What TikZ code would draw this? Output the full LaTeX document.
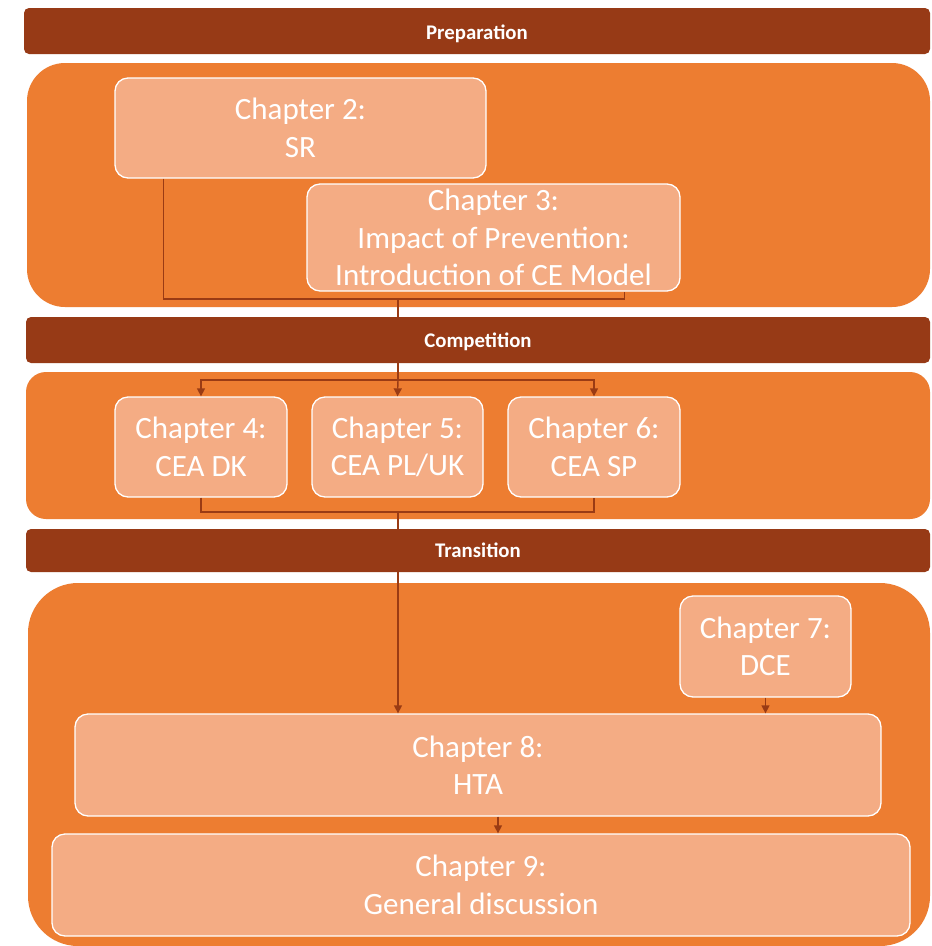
\documentclass[tikz,border=0pt]{standalone}
\usepackage{fontspec}
\setmainfont{Carlito}
\usetikzlibrary{arrows.meta,calc}
\definecolor{barbrown}{HTML}{973A16}
\definecolor{panelorange}{HTML}{ED7D31}
\definecolor{boxfill}{HTML}{F4AC84}
\definecolor{linebrown}{HTML}{9A3B14}
\tikzset{
  panel/.style={fill=panelorange, draw=none},
  phasebar/.style={fill=barbrown, draw=none, rounded corners=5pt, text=white,
    font=\fontsize{20.8}{24}\selectfont\bfseries, inner sep=0pt},
  chbox/.style={fill=boxfill, draw=white, line width=1.3pt, rounded corners=13pt,
    text=white, align=center, inner sep=0pt, font=\fontsize{31}{37.5}\selectfont},
  conn/.style={draw=linebrown, line width=1.4pt},
  arr/.style={conn, -{Triangle[length=8pt,width=8pt]}}
}
\newcommand{\bartext}[2]{\raisebox{-#1}[0pt][0pt]{#2}}
\begin{document}
\begin{tikzpicture}[x=1pt,y=-1pt]
\useasboundingbox (0,0) rectangle (932,946);
\fill[white] (0,0) rectangle (932,946);
% panels
\path[panel, rounded corners=38pt] (27,63) rectangle (930,307);
\path[panel, rounded corners=20pt] (26,372) rectangle (930,519);
\path[panel, rounded corners=50pt] (28,583) rectangle (930,946);
% chapter boxes
\node[chbox, minimum width=371pt, minimum height=100pt] (c2) at (300.5,128) {Chapter 2:\\SR};
\node[chbox, minimum width=373pt, minimum height=107pt] (c3) at (493.5,237.5) {Chapter 3:\\Impact of Prevention:\\Introduction of CE Model};
\node[chbox, minimum width=172pt, minimum height=100pt] (c4) at (201,447) {Chapter 4:\\CEA DK};
\node[chbox, minimum width=171pt, minimum height=100pt] (c5) at (397.5,447) {Chapter 5:\\CEA PL/UK};
\node[chbox, minimum width=172pt, minimum height=100pt] (c6) at (594,447) {Chapter 6:\\CEA SP};
\node[chbox, minimum width=171pt, minimum height=101pt] (c7) at (765.5,646.5) {Chapter 7:\\DCE};
\node[chbox, minimum width=806pt, minimum height=102pt] (c8) at (478,765) {Chapter 8:\\HTA};
\node[chbox, minimum width=858pt, minimum height=102pt] (c9) at (481,885) {Chapter 9:\\General discussion};
% junctions
\coordinate (j1) at (398,299);
\coordinate (j2) at (398,380);
\coordinate (j3) at (398,512);
% connectors
\draw[conn] ([xshift=49pt]c2.south west) |- (j1) -| ([xshift=-56pt]c3.south east);
\draw[conn] (j1) -- (j2);
\draw[arr] (j2) -- (c5.north);
\draw[arr] (j2) -| (c4.north);
\draw[arr] (j2) -| (c6.north);
\draw[conn] (c4.south) |- (j3) -| (c6.south);
\draw[arr] (j3) -- (j3 |- c8.north);
\draw[arr] (c7.south) -- (c7.south |- c8.north);
\draw[arr] ([xshift=20pt]c8.south) -- ([xshift=20pt]c8.south |- c9.north);
% phase bars
\node[phasebar, minimum width=906pt, minimum height=46pt] (b1) at (477,31) {\bartext{8.6pt}{Preparation}};
\node[phasebar, minimum width=904pt, minimum height=46pt] (b2) at (478,340) {\bartext{7.6pt}{Competition}};
\node[phasebar, minimum width=904pt, minimum height=43pt] (b3) at (478,550.5) {\bartext{7.1pt}{Transition}};
\end{tikzpicture}
\end{document}
